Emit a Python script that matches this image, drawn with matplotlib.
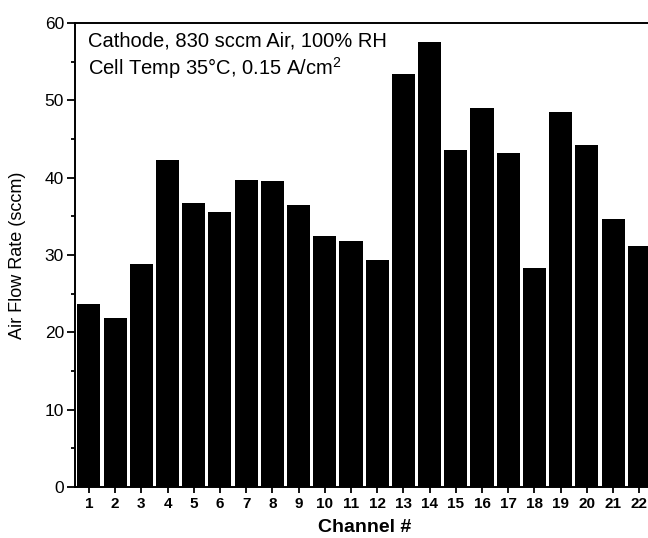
import numpy as np
import matplotlib
matplotlib.use('Agg')
import matplotlib.pyplot as plt
from matplotlib.ticker import MultipleLocator

channels = list(range(1, 23))
flow_rate = [23.7, 21.9, 28.9, 42.3, 36.7, 35.5, 39.7, 39.6, 36.5, 32.4, 31.8,
             29.3, 53.4, 57.6, 43.6, 49.0, 43.2, 28.3, 48.5, 44.2, 34.7, 31.2]
note_lines = ['Cathode, 830 sccm Air, 100% RH',
              'Cell Temp 35\u00b0C, 0.15 A/cm$^2$']

plt.rcParams['font.family'] = ['Liberation Sans', 'DejaVu Sans']
plt.rcParams['mathtext.fontset'] = 'custom'
plt.rcParams['mathtext.rm'] = 'Liberation Sans'

fig = plt.figure(figsize=(6.48, 5.38), dpi=100)
# axes runs slightly past the right edge, like the cropped original
ax = fig.add_axes([75 / 648, 51 / 538, 580 / 648, 464 / 538])

ax.bar(channels, flow_rate, width=0.88, color='black', edgecolor='none')

ax.set_xlim(0.47, 22.6)
ax.set_ylim(0, 60)
ax.set_xticks(channels)
ax.set_xticklabels([str(c) for c in channels], fontsize=11, fontweight='bold')
ax.yaxis.set_major_locator(MultipleLocator(10))
ax.yaxis.set_minor_locator(MultipleLocator(5))
ax.tick_params(axis='y', which='major', direction='out', length=6, width=1.3,
               labelsize=12.5, pad=2)
ax.tick_params(axis='y', which='minor', direction='out', length=3, width=1.3)
ax.tick_params(axis='x', which='major', direction='out', length=4, width=1.3, pad=3)

for s in ax.spines.values():
    s.set_linewidth(1.4)

ax.set_xlabel('Channel #', fontsize=14, fontweight='bold', labelpad=6)
ax.set_ylabel('Air Flow Rate (sccm)', fontsize=13, labelpad=13)

ax.text(0.023, 0.962, note_lines[0], transform=ax.transAxes, fontsize=14.5,
        va='center', ha='left')
ax.text(0.023, 0.902, note_lines[1], transform=ax.transAxes, fontsize=14.5,
        va='center', ha='left')

fig.savefig('out.png', dpi=100)
